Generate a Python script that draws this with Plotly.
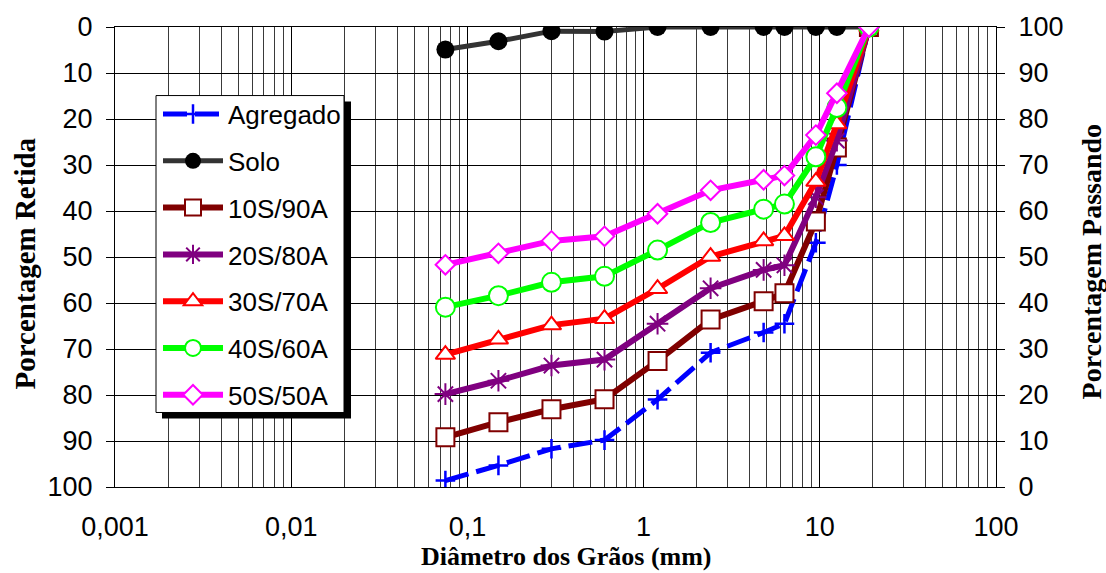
import plotly.graph_objects as go

# ---------------- data ----------------
diametros = [0.075, 0.15, 0.3, 0.6, 1.2, 2.4, 4.8, 6.3, 9.5, 12.5, 19]

agregado = [98.6, 95.3, 91.7, 89.8, 81.0, 70.8, 66.4, 64.5, 46.9, 30.0, 0]
solo     = [4.9, 3.1, 0.9, 1.0, 0, 0, 0, 0, 0, 0, 0]
s10_a90  = [89.2, 85.9, 83.1, 80.9, 72.6, 63.6, 59.6, 57.9, 42.3, 26.2, 0]
s20_a80  = [79.8, 76.9, 73.6, 72.3, 64.5, 56.8, 52.8, 51.8, 37.0, 24.7, 0]
s30_a70  = [71.2, 67.9, 64.8, 63.4, 56.9, 49.9, 46.5, 45.4, 33.6, 21.1, 0]
s40_a60  = [60.9, 58.4, 55.5, 54.2, 48.5, 42.5, 39.6, 38.5, 28.2, 17.5, 0]
s50_a50  = [51.7, 49.2, 46.5, 45.5, 40.6, 35.5, 33.2, 32.3, 23.5, 14.4, 0]

x_tickvals = [0.001, 0.01, 0.1, 1, 10, 100]
x_ticktext = ["0,001", "0,01", "0,1", "1", "10", "100"]
y_ticks = list(range(0, 101, 10))

# ---------------- figure ----------------
W, H = 1106, 573
ML, MR, MT, MB = 115, 110, 24, 86
PW, PH = W - ML - MR, H - MT - MB

def px_x(p):
    return (p - ML) / PW

def px_y(p):
    return (H - MB - p) / PH

series = [
    ("Agregado", agregado, "#0000FF", dict(symbol="cross-thin-open", size=14, color="#0000FF",
                                           line=dict(color="#0000FF", width=2.5)), "24px,8px", 5),
    ("Solo", solo, "#333333", dict(symbol="circle", size=18, color="#000000",
                                   line=dict(color="#000000", width=0)), "solid", 5),
    ("10S/90A", s10_a90, "#800000", dict(symbol="square", size=18, color="#FFFFFF",
                                         line=dict(color="#800000", width=2)), "solid", 6),
    ("20S/80A", s20_a80, "#800080", dict(symbol="asterisk-open", size=18, color="#800080",
                                         line=dict(color="#800080", width=2)), "solid", 6),
    ("30S/70A", s30_a70, "#FF0000", dict(symbol="triangle-up", size=17, color="#FFFFFF",
                                         line=dict(color="#FF0000", width=2)), "solid", 6),
    ("40S/60A", s40_a60, "#00FF00", dict(symbol="circle", size=19, color="#FFFFFF",
                                         line=dict(color="#00FF00", width=2)), "solid", 6),
    ("50S/50A", s50_a50, "#FF00FF", dict(symbol="diamond", size=15, color="#FFFFFF",
                                         line=dict(color="#FF00FF", width=2)), "solid", 6),
]

fig = go.Figure()
for name, vals, col, mk, dash, lw in series:
    fig.add_trace(go.Scatter(
        x=diametros, y=vals, name=name, mode="lines+markers",
        line=dict(color=col, width=lw, dash=dash),
        marker=mk, legendgroup=name,
    ))

# secondary axis (Porcentagem Passando)
fig.add_trace(go.Scatter(x=[None], y=[None], yaxis="y2", showlegend=False,
                         hoverinfo="skip", mode="lines"))

minor_vals = [m * 10 ** e for e in range(-3, 2) for m in range(2, 10)]

tickfont = dict(family="Liberation Sans, Arial", size=27, color="#000000")

fig.update_layout(
    width=W, height=H,
    margin=dict(l=ML, r=MR, t=MT, b=MB),
    paper_bgcolor="white", plot_bgcolor="white",
    showlegend=True,
    xaxis=dict(
        type="log", range=[-3, 2],
        tickmode="array", tickvals=x_tickvals, ticktext=x_ticktext,
        ticks="", tickfont=tickfont, ticklabelstandoff=16,
        showgrid=True, gridcolor="#000000", gridwidth=1,
        minor=dict(tickmode="array", tickvals=minor_vals, showgrid=True,
                   gridcolor="#3a3a3a", gridwidth=1, ticks=""),
        showline=True, linecolor="#000000", linewidth=1, mirror=True,
        zeroline=False,
    ),
    yaxis=dict(
        range=[100, 0], tickmode="array", tickvals=y_ticks,
        ticks="outside", ticklen=8, tickcolor="#000000", tickwidth=1,
        tickfont=tickfont, ticklabelstandoff=8,
        showgrid=True, gridcolor="#000000", gridwidth=1,
        showline=True, linecolor="#000000", linewidth=1, mirror=True,
        zeroline=False,
    ),
    yaxis2=dict(
        range=[0, 100], overlaying="y", side="right",
        tickmode="array", tickvals=y_ticks,
        ticks="outside", ticklen=8, tickcolor="#000000", tickwidth=1,
        tickfont=tickfont, ticklabelstandoff=8,
        showgrid=False, showline=True, linecolor="#000000", zeroline=False,
    ),
    legend=dict(
        x=px_x(158), y=px_y(88), xanchor="left", yanchor="top",
        bgcolor="rgba(0,0,0,0)", borderwidth=0,
        font=dict(family="Liberation Sans, Arial", size=26, color="#000000"),
        itemwidth=60, tracegroupgap=10,
    ),
    shapes=[
        dict(type="rect", xref="paper", yref="paper", layer="above",
             x0=px_x(162), x1=px_x(351), y0=px_y(99), y1=px_y(418),
             fillcolor="#000000", line=dict(width=0)),
        dict(type="rect", xref="paper", yref="paper", layer="above",
             x0=px_x(156), x1=px_x(344), y0=px_y(93), y1=px_y(412),
             fillcolor="#FFFFFF", line=dict(color="#000000", width=1)),
    ],
    annotations=[
        dict(text="<b>Diâmetro dos Grãos (mm)</b>", xref="paper", yref="paper",
             x=px_x(566), y=px_y(557), xanchor="center", yanchor="middle", showarrow=False,
             font=dict(family="Liberation Serif, Times New Roman", size=26, color="#000000")),
        dict(text="<b>Porcentagem Retida</b>", xref="paper", yref="paper",
             x=px_x(25), y=px_y(262), xanchor="center", yanchor="middle",
             showarrow=False, textangle=-90,
             font=dict(family="Liberation Serif, Times New Roman", size=29, color="#000000")),
        dict(text="<b>Porcentagem Passando</b>", xref="paper", yref="paper",
             x=px_x(1091), y=px_y(260), xanchor="center", yanchor="middle",
             showarrow=False, textangle=-90,
             font=dict(family="Liberation Serif, Times New Roman", size=28, color="#000000")),
    ],
)

fig.write_html("out.html")
